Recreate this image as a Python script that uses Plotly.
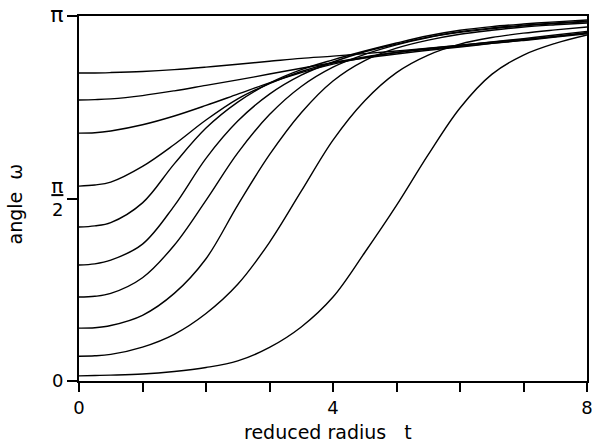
import plotly.graph_objects as go

# Reduced radius samples shared by every profile
t = [0, 0.25, 0.5, 1.0, 1.5, 2.0, 2.5, 3.0, 3.5, 4.0, 4.5, 5.0, 5.5, 6.0, 6.5, 7.0, 7.5, 8.0]

# Angle profiles omega(t), in units of pi, one list per starting angle
w_1 = [0.844, 0.844, 0.845, 0.848, 0.853, 0.860, 0.868, 0.876, 0.884, 0.890, 0.897, 0.904, 0.912, 0.920, 0.929, 0.938, 0.948, 0.958]
w_2 = [0.770, 0.771, 0.773, 0.782, 0.795, 0.810, 0.825, 0.841, 0.857, 0.872, 0.885, 0.896, 0.906, 0.915, 0.925, 0.934, 0.944, 0.955]
w_3 = [0.679, 0.680, 0.685, 0.702, 0.726, 0.755, 0.786, 0.817, 0.845, 0.868, 0.886, 0.900, 0.911, 0.920, 0.928, 0.936, 0.944, 0.953]
w_4 = [0.534, 0.537, 0.545, 0.588, 0.648, 0.715, 0.773, 0.815, 0.848, 0.872, 0.888, 0.900, 0.909, 0.917, 0.925, 0.933, 0.942, 0.951]
w_5 = [0.422, 0.425, 0.434, 0.488, 0.595, 0.693, 0.764, 0.816, 0.853, 0.880, 0.904, 0.926, 0.946, 0.961, 0.971, 0.978, 0.984, 0.989]
w_6 = [0.318, 0.321, 0.331, 0.375, 0.480, 0.610, 0.712, 0.786, 0.838, 0.874, 0.902, 0.923, 0.942, 0.957, 0.967, 0.975, 0.981, 0.986]
w_7 = [0.230, 0.232, 0.240, 0.283, 0.372, 0.495, 0.625, 0.730, 0.807, 0.860, 0.895, 0.921, 0.941, 0.955, 0.965, 0.973, 0.979, 0.984]
w_8 = [0.145, 0.146, 0.152, 0.180, 0.240, 0.335, 0.482, 0.620, 0.735, 0.822, 0.878, 0.912, 0.934, 0.950, 0.961, 0.970, 0.976, 0.981]
w_9 = [0.068, 0.069, 0.073, 0.093, 0.128, 0.185, 0.265, 0.380, 0.520, 0.660, 0.768, 0.845, 0.893, 0.923, 0.941, 0.953, 0.962, 0.970]
w_10 = [0.014, 0.015, 0.016, 0.019, 0.026, 0.037, 0.055, 0.092, 0.148, 0.230, 0.352, 0.481, 0.620, 0.748, 0.840, 0.893, 0.925, 0.948]

profiles = [w_1, w_2, w_3, w_4, w_5, w_6, w_7, w_8, w_9, w_10]

x_tickvals = [0, 1, 2, 3, 4, 5, 6, 7, 8]
x_ticktext = ["0", "", "", "", "4", "", "", "", "8"]
y_tickvals = [0, 0.5, 1]
y_ticktext = ["0",
              "<span style='font-size:20px'><u>π</u></span><br>2",
              "<span style='font-size:22px'>π</span>"]

font_family = "DejaVu Sans"

fig = go.Figure()
for w in profiles:
    fig.add_trace(go.Scatter(
        x=t, y=w, mode="lines",
        line=dict(color="black", width=1.4, shape="spline", smoothing=1.0),
        showlegend=False, hoverinfo="skip",
    ))

axis_common = dict(
    showgrid=False, zeroline=False, automargin=False,
    showline=True, linecolor="black", linewidth=2, mirror=True,
    ticks="outside", tickcolor="black", tickwidth=2,
    ticklabeloverflow="allow",
    tickfont=dict(family=font_family, size=18, color="black"),
)

fig.update_layout(
    width=592, height=443,
    margin=dict(l=79, r=5, t=16, b=62),
    paper_bgcolor="white", plot_bgcolor="white",
    xaxis=dict(range=[0, 8], tickvals=x_tickvals, ticktext=x_ticktext,
               ticklen=9, **axis_common),
    yaxis=dict(range=[0, 1], tickvals=y_tickvals, ticktext=y_ticktext,
               ticklen=10, **axis_common),
    annotations=[
        dict(text="angle&nbsp;&nbsp;ω", xref="paper", yref="paper", x=0, y=0.5,
             xanchor="center", yanchor="middle", xshift=-65, yshift=-6,
             textangle=-90, showarrow=False,
             font=dict(family=font_family, size=19, color="black")),
        dict(text="reduced radius&nbsp;&nbsp; t", xref="paper", yref="paper", x=0.5, y=0,
             xanchor="center", yanchor="middle", xshift=-5, yshift=-51,
             showarrow=False,
             font=dict(family=font_family, size=19, color="black")),
    ],
)

fig.write_html("out.html")
